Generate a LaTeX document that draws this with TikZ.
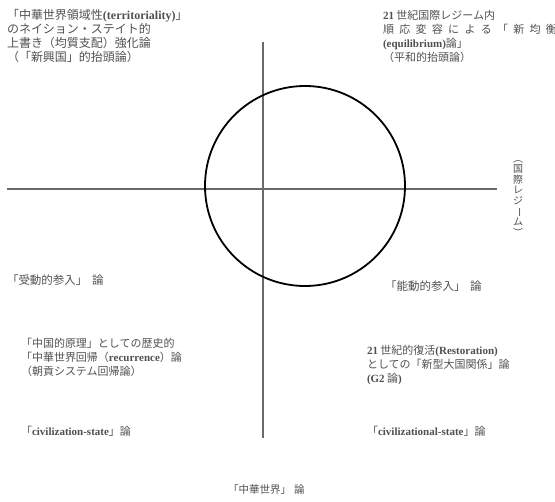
\documentclass[tikz,border=0pt]{standalone}
\usepackage{fontspec}
\usepackage{graphicx}
\setmainfont{Noto Sans CJK JP}
\newfontfamily\latf{Liberation Serif}
\newcommand\E[1]{{\latf\bfseries #1}}
\newcommand\ks{\kern5.3pt}
\definecolor{txt}{HTML}{505050}
\definecolor{axisc}{HTML}{6A6A6A}
\begin{document}
\begin{tikzpicture}[x=1pt,y=-1pt,
  every node/.style={inner sep=0pt,outer sep=0pt},
  lbl/.style={anchor=base west,text=txt,font=\fontsize{11}{13}\selectfont},
  lblbig/.style={lbl,font=\fontsize{12}{14}\selectfont},
  axisline/.style={draw=axisc,line width=1.3pt},
  ring/.style={draw=black,line width=1.8pt,circle,minimum size=200pt}]
\useasboundingbox (0,0) rectangle (555,502);
% axes
\coordinate (vt) at (263,42);
\coordinate (vb) at (263,438);
\coordinate (hl) at (7,189);
\coordinate (hr) at (497,189);
\draw[axisline] (vt) -- (vb);
\draw[axisline] (hl) -- (hr);
% circle
\node[ring] (c) at (305,186) {};
% top-left block
\node[lblbig] (tl1) at (7,19.5) {「中華世界領域性\E{(territoriality)}」};
\node[lblbig] (tl2) at (7,33.5) {のネイション・ステイト的};
\node[lblbig] (tl3) at (7,47.5) {上書き（均質支配）強化論};
\node[lblbig] (tl4) at (7,61.5) {（「新興国」的抬頭論）};
% top-right block
\node[lbl] (tr1) at (383,19.3) {\E{21} 世紀国際レジーム内};
\node[lbl] (tr2) at (383,33.3) {順\ks 応\ks 変\ks 容\ks に\ks よ\ks る\ks 「\ks 新\ks 均\ks 衡};
\node[lbl] (tr3) at (383,47.3) {\E{(equilibrium)}論」};
\node[lbl] (tr4) at (383,61.3) {（平和的抬頭論）};
% vertical label
\node[text=txt,align=center,font=\fontsize{10}{10.4}\selectfont] (vr) at (518,198.5)
  {︵\\国\\際\\レ\\ジ\\\rotatebox[origin=c]{-90}{ー}\\ム\\︶};
% middle labels
\node[lbl,font=\fontsize{11.5}{13}\selectfont] (ju) at (7,284.5) {「受動的参入」\hspace{0.4em}論};
\node[lbl,font=\fontsize{11.5}{13}\selectfont] (no) at (385,290.5) {「能動的参入」\hspace{0.4em}論};
% bottom-left block
\node[lbl] (bl1) at (21,347.3) {「中国的原理」としての歴史的};
\node[lbl] (bl2) at (21,361.3) {「中華世界回帰（\E{recurrence}）論};
\node[lbl] (bl3) at (21,375.3) {（朝貢システム回帰論）};
% bottom-right block
\node[lbl] (br1) at (367,354.3) {\E{21} 世紀的復活\E{(Restoration)}};
\node[lbl] (br2) at (367,368.3) {としての「新型大国関係」論};
\node[lbl] (br3) at (367,382.3) {\E{(G2} 論\E{)}};
% civilization labels
\node[lbl] (cs1) at (21,436) {「\E{civilization-state}」論};
\node[lbl] (cs2) at (367,436) {「\E{civilizational-state}」論};
% bottom label
\node[lbl,font=\fontsize{10.5}{12}\selectfont] (ch) at (228,494) {「中華世界」\hspace{0.3em}論};
\end{tikzpicture}
\end{document}
